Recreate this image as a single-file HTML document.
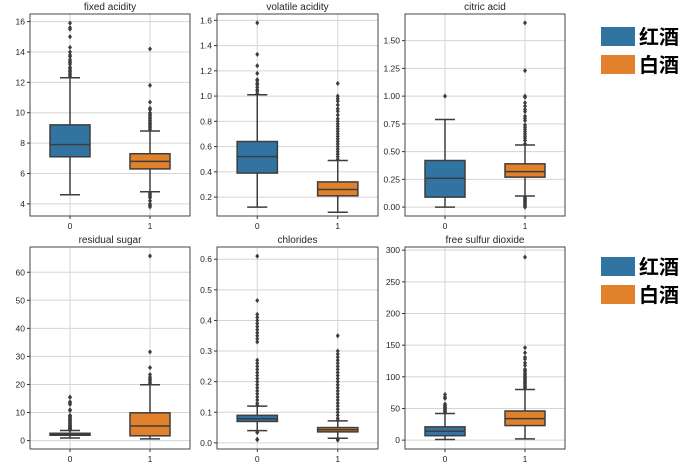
<!DOCTYPE html>
<html><head><meta charset="utf-8"><style>
body{margin:0;background:#fff;width:699px;height:465px;overflow:hidden}
svg{font-family:"Liberation Sans","DejaVu Sans",sans-serif}
</style></head><body>
<svg id="c" width="699" height="465"></svg>
<script>
const titles=["fixed acidity","volatile acidity","citric acid","residual sugar","chlorides","free sulfur dioxide"];
const categories=["0","1"];
const yLims=[[3.2,16.5],[0.05,1.65],[-0.08,1.74],[-3,69],[-0.02,0.64],[-14,305]];
const yTicks=[[4,6,8,10,12,14,16],[0.2,0.4,0.6,0.8,1.0,1.2,1.4,1.6],[0,0.25,0.5,0.75,1.0,1.25,1.5],[0,10,20,30,40,50,60],[0,0.1,0.2,0.3,0.4,0.5,0.6],[0,50,100,150,200,250,300]];
const tickLabels=[["4","6","8","10","12","14","16"],["0.2","0.4","0.6","0.8","1.0","1.2","1.4","1.6"],["0.00","0.25","0.50","0.75","1.00","1.25","1.50"],["0","10","20","30","40","50","60"],["0.0","0.1","0.2","0.3","0.4","0.5","0.6"],["0","50","100","150","200","250","300"]];
// [whiskerLow, q1, median, q3, whiskerHigh] for red(0), white(1)
const redStats=[[4.6,7.1,7.9,9.2,12.3],[0.12,0.39,0.52,0.64,1.01],[0,0.09,0.26,0.42,0.79],[0.9,1.9,2.2,2.6,3.6],[0.04,0.07,0.079,0.09,0.12],[1,7,14,21,42]];
const whiteStats=[[4.8,6.3,6.8,7.3,8.8],[0.08,0.21,0.26,0.32,0.49],[0.1,0.27,0.32,0.39,0.56],[0.6,1.7,5.2,9.9,19.9],[0.015,0.036,0.043,0.05,0.072],[2,23,34,46,80]];
const redOutliers=[
[12.4,12.5,12.6,12.7,12.8,12.9,13.0,13.2,13.3,13.4,13.5,13.7,13.8,14.0,14.3,15.0,15.5,15.6,15.9],
[1.02,1.04,1.05,1.07,1.09,1.1,1.12,1.13,1.18,1.24,1.33,1.58],
[1.0],
[3.7,3.8,3.9,4.0,4.1,4.3,4.5,4.6,4.8,5.0,5.2,5.5,5.8,6.0,6.3,6.6,7.0,7.3,7.5,7.9,8.3,8.6,8.8,9.0,10.7,11.0,12.9,13.4,13.8,15.4,15.5],
[0.01,0.012,0.034,0.035,0.123,0.13,0.14,0.15,0.16,0.17,0.18,0.19,0.2,0.21,0.22,0.23,0.24,0.25,0.26,0.27,0.33,0.34,0.35,0.36,0.37,0.38,0.39,0.4,0.41,0.42,0.465,0.61],
[43,45,47,48,50,51,52,54,55,57,66,68,72]];
const whiteOutliers=[
[8.9,9.0,9.1,9.2,9.3,9.4,9.5,9.6,9.7,9.8,9.9,10.0,10.2,10.3,10.7,11.8,14.2,4.7,4.6,4.5,4.4,4.2,4.0,3.9,3.8],
[0.5,0.52,0.54,0.56,0.58,0.6,0.62,0.64,0.66,0.68,0.7,0.72,0.74,0.76,0.78,0.8,0.82,0.85,0.88,0.9,0.93,0.96,0.98,1.0,1.1],
[0.57,0.6,0.62,0.64,0.66,0.68,0.7,0.72,0.74,0.78,0.8,0.82,0.86,0.88,0.91,0.94,0.99,1.0,1.23,1.66,0,0.01,0.02,0.03,0.04,0.05,0.06,0.07,0.08,0.09],
[20.2,20.8,21.5,22.0,22.6,23.5,26.0,31.6,65.8],
[0.073,0.08,0.09,0.1,0.11,0.12,0.13,0.14,0.15,0.16,0.17,0.18,0.19,0.2,0.21,0.22,0.23,0.24,0.25,0.26,0.27,0.28,0.29,0.3,0.35,0.009,0.011,0.013,0.014],
[81,83,85,87,89,91,93,95,97,99,101,103,105,108,110,112,118,122,128,131,138,146,289]];
const colors=["#3274a1","#e1812c"];
const cols=[[30,190],[217,378],[405,565]];
const rows=[[14,216],[247,449]];
const NS="http://www.w3.org/2000/svg";
const svg=document.getElementById("c");
function mk(tag,attrs,parent){const e=document.createElementNS(NS,tag);for(const k in attrs)e.setAttribute(k,attrs[k]);(parent||svg).appendChild(e);return e;}
const line="#3d3d3d";
for(let p=0;p<6;p++){
  const [x0,x1]=cols[p%3],[y0,y1]=rows[Math.floor(p/3)];
  const g=mk("g",{});
  
  
  const [lo,hi]=yLims[p];
  const y=v=>y1-(v-lo)/(hi-lo)*(y1-y0);
  const step=(x1-x0)/2;
  const x=i=>x0+step*(i+0.5);
  // grid + ticks
  yTicks[p].forEach((t,i)=>{
    const gy=y(t);
    const gl=mk("line",{x1:x0,x2:x1,y1:gy,y2:gy,stroke:"#d5d5d5","stroke-width":1},g);
    
    
    mk("line",{x1:x0-3,x2:x0,y1:gy,y2:gy,stroke:"#333"},g);
    const tl=mk("text",{x:x0-5,y:gy+3,"font-size":"8.5","text-anchor":"end",fill:"#262626"},g);
    tl.textContent=tickLabels[p][i];
    
    
  });
  categories.forEach((c,i)=>{
    const cx=x(i);
    mk("line",{x1:cx,x2:cx,y1:y0,y2:y1,stroke:"#d5d5d5"},g);
    mk("line",{x1:cx,x2:cx,y1:y1,y2:y1+3,stroke:"#333"},g);
    const tl=mk("text",{x:cx,y:y1+13,"font-size":"8.5","text-anchor":"middle",fill:"#262626"},g);
    tl.textContent=c;
    
    
  });
  const st=[redStats[p],whiteStats[p]],out=[redOutliers[p],whiteOutliers[p]];
  for(let i=0;i<2;i++){
    const cx=x(i),hw=step*0.25,s=st[i];
    const bg=mk("g",{},g);
    
    
    mk("line",{x1:cx,x2:cx,y1:y(s[0]),y2:y(s[1]),stroke:line,"stroke-width":1.5},bg);
    mk("line",{x1:cx,x2:cx,y1:y(s[3]),y2:y(s[4]),stroke:line,"stroke-width":1.5},bg);
    mk("line",{x1:cx-hw/2,x2:cx+hw/2,y1:y(s[0]),y2:y(s[0]),stroke:line,"stroke-width":1.5},bg);
    mk("line",{x1:cx-hw/2,x2:cx+hw/2,y1:y(s[4]),y2:y(s[4]),stroke:line,"stroke-width":1.5},bg);
    mk("rect",{x:cx-hw,y:y(s[3]),width:2*hw,height:Math.max(1,y(s[1])-y(s[3])),fill:colors[i],stroke:line,"stroke-width":1.5},bg);
    mk("line",{x1:cx-hw,x2:cx+hw,y1:y(s[2]),y2:y(s[2]),stroke:line,"stroke-width":1.5},bg);
    out[i].forEach(v=>{
      const o=mk("path",{d:`M${cx},${y(v)-2.6}L${cx+2},${y(v)}L${cx},${y(v)+2.6}L${cx-2},${y(v)}Z`,fill:line},bg);
      
      
    });
  }
  mk("rect",{x:x0,y:y0,width:x1-x0,height:y1-y0,fill:"none",stroke:"#444","stroke-width":1},g);
  const tt=mk("text",{x:(x0+x1)/2,y:y0-4,"font-size":"10","text-anchor":"middle",fill:"#262626"},g);
  tt.textContent=titles[p];
  
  
}
// legends
[[27,55],[257,285]].forEach((ys,li)=>{
  const lg=mk("g",{});
  
  
  ["红酒","白酒"].forEach((lab,i)=>{
    mk("rect",{x:601,y:ys[i],width:34,height:19,fill:colors[i]},lg);
    const t=mk("text",{x:639,y:ys[i]+17,"font-size":"20","font-weight":"bold",fill:"#000","font-family":"'Liberation Sans','Noto Sans CJK SC',sans-serif"},lg);
    t.textContent=lab;
    
    
  });
});
</script>
</body></html>
